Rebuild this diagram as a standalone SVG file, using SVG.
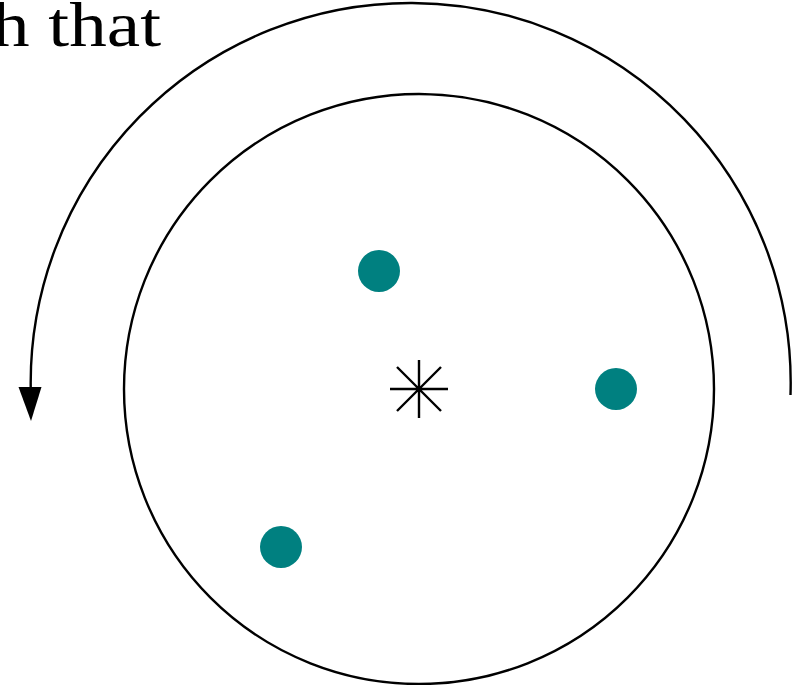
<svg xmlns="http://www.w3.org/2000/svg" width="792" height="685" viewBox="0 0 792 685">
<style>
.ln{fill:none;stroke:#000;stroke-width:2.4}
.dot{fill:#008080}
.lbl{font-family:"Liberation Serif","DejaVu Serif",serif;font-size:64px;fill:#000}
</style>
<rect width="792" height="685" fill="#fff"/>
<text class="lbl" x="-8" y="46" textLength="169" lengthAdjust="spacingAndGlyphs">h that</text>
<g id="wheel">
<circle class="ln" cx="419" cy="389" r="295"/>
</g>
<g id="center">
<path class="ln" stroke-width="3" d="M390 389H448M419 360V418M397 367L441 411M441 367L397 411"/>
</g>
<g id="dot1"><circle class="dot" cx="379" cy="271" r="21"/></g>
<g id="dot2"><circle class="dot" cx="616" cy="389" r="21"/></g>
<g id="dot3"><circle class="dot" cx="281" cy="547" r="21"/></g>
<g id="connectors">
<path class="ln" d="M790.5 395A380 380 0 1 0 30.8 392"/>
<polygon points="18.5,387 41.5,387 31,421" fill="#000"/>
</g>
</svg>
